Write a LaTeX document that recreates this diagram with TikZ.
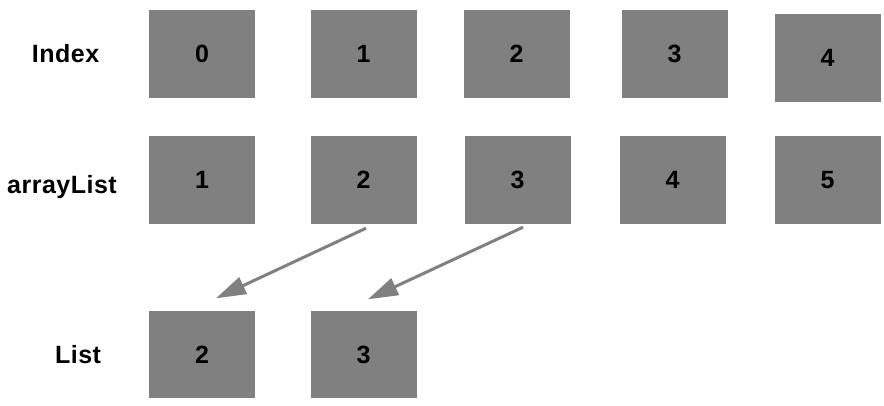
\documentclass[tikz,border=0pt]{standalone}
\usepackage{fontspec}
\setmainfont{Liberation Sans}[LetterSpace=2]
\usetikzlibrary{arrows.meta, positioning}

\begin{document}
\begin{tikzpicture}[
    x=1pt, y=-1pt,
    font=\fontsize{25}{30}\selectfont\bfseries,
    cell/.style={
        rectangle, fill=gray, draw=none,
        minimum width=106pt, minimum height=88pt,
        inner sep=0pt, align=center
    },
    rowlabel/.style={
        anchor=base, inner sep=0pt
    },
    arrow/.style={
        -{Triangle[length=30pt, width=18pt]}, line width=3pt, draw=gray
    }
]
    \useasboundingbox (0,0) rectangle (884,406);

    % --- ROW LABELS ---
    \node [rowlabel] (lbl_index) at (65.5,63) {Index};
    \node [rowlabel] (lbl_array) at (62,194) {arrayList};
    \node [rowlabel] (lbl_list) at (78,363) {List};

    % --- INDEX ROW ---
    \node [cell] (idx_0) at (202,54) {0};
    \node [cell] (idx_1) at (363.5,54) {1};
    \node [cell] (idx_2) at (516.5,54) {2};
    \node [cell] (idx_3) at (674.5,54) {3};
    \node [cell] (idx_4) at (827.5,58) {4};

    % --- ARRAYLIST ROW ---
    \node [cell] (arr_1) at (202,180) {1};
    \node [cell] (arr_2) at (363.5,180) {2};
    \node [cell] (arr_3) at (517.5,180) {3};
    \node [cell] (arr_4) at (672.5,180) {4};
    \node [cell] (arr_5) at (827.5,180) {5};

    % --- LIST ROW ---
    \node [cell, minimum height=87pt] (lst_2) at (202,354.5) {2};
    \node [cell, minimum height=87pt] (lst_3) at (363.5,354.5) {3};

    % --- CONNECTING ARROWS ---
    \draw [arrow] ([shift={(2.5pt,-4pt)}]arr_2.south) -- ([shift={(14pt,12.5pt)}]lst_2.north);
    \draw [arrow] ([shift={(5.5pt,-3pt)}]arr_3.south) -- ([shift={(4.5pt,11.5pt)}]lst_3.north);

\end{tikzpicture}
\end{document}
